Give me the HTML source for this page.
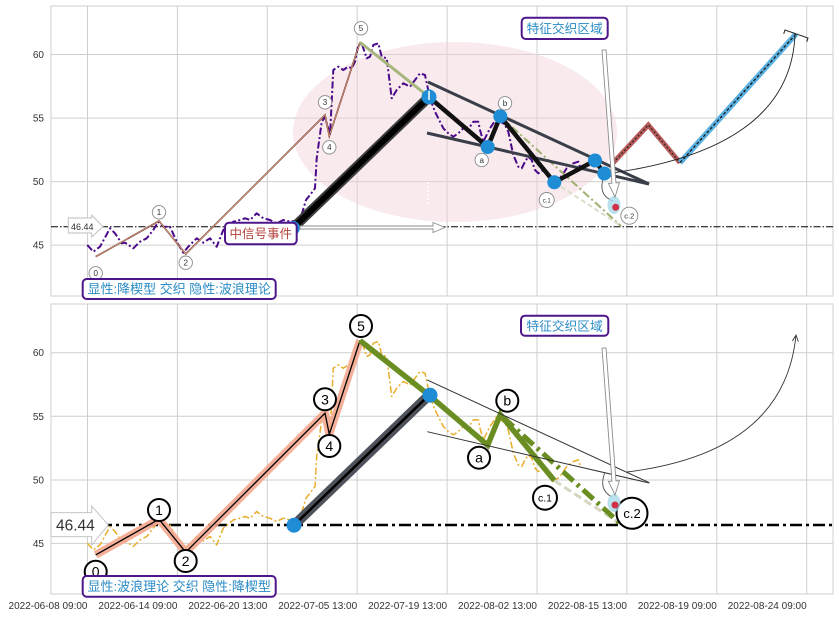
<!DOCTYPE html>
<html><head><meta charset="utf-8"><style>
html,body{margin:0;padding:0;background:#fff;}
svg{display:block;}
text{font-family:"Liberation Sans","Noto Sans CJK SC",sans-serif;}
</style></head><body>
<svg width="839" height="617" viewBox="0 0 839 617" xmlns="http://www.w3.org/2000/svg">
<rect width="839" height="617" fill="#fff"/>

<!-- ===== TOP PANEL ===== -->
<g stroke="#cfcfcf" stroke-width="1" fill="none">
<line x1="87.5" y1="6" x2="87.5" y2="296"/><line x1="177.4" y1="6" x2="177.4" y2="296"/><line x1="267.3" y1="6" x2="267.3" y2="296"/><line x1="357.2" y1="6" x2="357.2" y2="296"/><line x1="447.1" y1="6" x2="447.1" y2="296"/><line x1="537" y1="6" x2="537" y2="296"/><line x1="626.9" y1="6" x2="626.9" y2="296"/><line x1="716.8" y1="6" x2="716.8" y2="296"/><line x1="806.7" y1="6" x2="806.7" y2="296"/>
<line x1="51" y1="54.5" x2="833" y2="54.5"/><line x1="51" y1="118.1" x2="833" y2="118.1"/><line x1="51" y1="181.6" x2="833" y2="181.6"/><line x1="51" y1="245.1" x2="833" y2="245.1"/>
<rect x="51" y="6" width="782" height="290"/>
</g>
<g font-size="10" fill="#333" text-anchor="end">
<text x="44" y="58">60</text><text x="44" y="121.6">55</text><text x="44" y="185.1">50</text><text x="44" y="248.6">45</text>
</g>

<ellipse cx="455" cy="132" rx="162" ry="90" fill="#f2d0da" fill-opacity="0.45"/>
<line x1="428" y1="182" x2="428" y2="206" stroke="#fff" stroke-width="1.5" stroke-dasharray="2 2"/>

<line x1="51" y1="226.7" x2="833" y2="226.7" stroke="#000" stroke-width="1" stroke-dasharray="7 2 1.5 2"/>

<!-- price (purple) -->
<path d="M87.3,245 L93.3,251.7 L100,246.7 L110,228.3 L115,233.3 L121.7,243.3 L125,242.7 L133.3,248.3 L140,241.7 L146.7,238.3 L153.3,230 L158.3,221.7 L163.3,226.7 L170,226.7 L176.7,241.7 L183.3,252.7 L188.3,246.7 L196.7,238.3 L203.3,242.7 L210,238.3 L216.7,246.7 L223.3,230 L233.3,221.7 L240,220 L245,218.3 L250,220 L256.7,213.3 L263.3,218.3 L270,220 L276.7,223.3 L283.3,220 L290,221.7 L300,220 L306,200 L310,195 L315,188.3 L316.7,158.3 L321.7,122 L325,117 L330,135 L333.3,70 L338.3,66.7 L343.3,70 L348.3,66.7 L351.7,68.3 L355,61.7 L358.3,45 L361.7,43.3 L366.7,58.3 L370,56.7 L373.3,45 L378.3,43.3 L381.7,56.7 L386.7,58.3 L391.7,98.3 L396.7,90 L403.3,83.3 L410,86.7 L415,80 L420,73.3 L425,75 L430,98.3 L435,111.7 L440,121.7 L443.3,128.3 L448.3,133.3 L453.3,136.7 L458.3,133.3 L463.3,128.3 L470,126.7 L473.3,121.7 L478.3,121.7 L480,130 L483.3,141.7 L490,128.3 L496.7,118.3 L505,125 L508.3,131.7 L513.3,155 L518.3,166.7 L521.7,168.3 L525,161.7 L528.3,156.7 L531.7,160 L535,170 L538.3,173.3 L543.3,170 L550,178.3 L553.3,183.3 L560,178.3 L566.7,168.3 L573.3,163.3 L578.3,161.7 L580,166.7" fill="none" stroke="#4b0a8a" stroke-width="2" stroke-dasharray="7 2.5 2 2.5" stroke-linejoin="round"/>

<!-- wave 0-5 thin -->
<polyline points="95.7,256.7 159,221 185.7,254 325,115 329.3,136 360,42.3" fill="none" stroke="#6b3020" stroke-width="1.6"/>
<polyline points="95.7,256.7 159,221 185.7,254 325,115 329.3,136 360,42.3" fill="none" stroke="#f2b7a0" stroke-width="0.6"/>

<!-- olive -->
<polyline points="360,42.3 429,97 487.7,147 500.3,116.3 554.3,182.3" fill="none" stroke="#a7b67c" stroke-width="3"/>
<line x1="500.3" y1="116.3" x2="621" y2="226" stroke="#9fb070" stroke-width="2" stroke-dasharray="8 3 2 3"/>
<line x1="554.3" y1="182.3" x2="621" y2="226" stroke="#dcdccc" stroke-width="2" stroke-dasharray="5 3"/>

<!-- thick black -->
<line x1="293" y1="228" x2="429" y2="97" stroke="#3c3c3c" stroke-width="10"/>
<line x1="293" y1="228" x2="429" y2="97" stroke="#000" stroke-width="6"/>

<!-- trend lines -->
<line x1="428" y1="82" x2="649" y2="184" stroke="#393e48" stroke-width="3"/>
<line x1="427" y1="133" x2="649" y2="184" stroke="#393e48" stroke-width="3"/>

<!-- ABC -->
<polyline points="429,97 487.7,147 500.3,116.3 554.3,182.3 595,160.5 604.3,173.5" fill="none" stroke="#111" stroke-width="4.5" stroke-linejoin="round"/>

<!-- red & blue -->
<polyline points="613.3,162.7 648.3,125 680,162.7" fill="none" stroke="#b85a5a" stroke-width="5"/>
<polyline points="613.3,162.7 648.3,125 680,162.7" fill="none" stroke="#222" stroke-width="1.2" stroke-dasharray="2 2"/>
<line x1="680" y1="162.7" x2="796" y2="34" stroke="#5ab0e0" stroke-width="5.5"/>
<line x1="680" y1="162.7" x2="796" y2="34" stroke="#1a1a1a" stroke-width="1.3" stroke-dasharray="3 2"/>
<polyline points="783.7,33.8 785,30 808,38 806.7,41.8" fill="none" stroke="#222" stroke-width="1"/>
<path d="M612,173 Q790,148 795,35" fill="none" stroke="#222" stroke-width="0.9"/>
<path d="M604,176 Q597,195 613,201" fill="none" stroke="#555" stroke-width="0.9"/>

<!-- blue dots -->
<g fill="#1f8dd6">
<circle cx="293" cy="228" r="7"/><circle cx="429" cy="97" r="7.5"/><circle cx="487.7" cy="147" r="7"/><circle cx="500.3" cy="116.3" r="7"/><circle cx="554.3" cy="182.3" r="7"/><circle cx="595" cy="160.5" r="7"/><circle cx="604.3" cy="173.5" r="7"/>
</g>
<line x1="429" y1="91" x2="429" y2="100" stroke="#fff" stroke-width="1.5"/>

<!-- small circle labels -->
<g fill="#fff" stroke="#8a8a8a" stroke-width="0.9">
<circle cx="95.7" cy="273.3" r="6.7"/><circle cx="159" cy="212.3" r="6.7"/><circle cx="185.7" cy="262.7" r="6.7"/><circle cx="325" cy="102.3" r="6.7"/><circle cx="329.3" cy="147.3" r="6.7"/><circle cx="361" cy="28.3" r="6.7"/><circle cx="481.7" cy="160" r="6.7"/><circle cx="505" cy="103.3" r="6.7"/><circle cx="546.7" cy="200" r="7.5"/><circle cx="629.3" cy="215.7" r="8.5"/>
</g>
<g font-size="8" fill="#333" text-anchor="middle">
<text x="95.7" y="276.2">0</text><text x="159" y="215.2">1</text><text x="185.7" y="265.6">2</text><text x="325" y="105.2">3</text><text x="329.3" y="150.2">4</text><text x="361" y="31.2">5</text><text x="481.7" y="162.9">a</text><text x="505" y="106.2">b</text><text x="546.7" y="202.3" font-size="6">c.1</text><text x="629.3" y="218.4" font-size="7.5">c.2</text>
</g>

<!-- red dot -->
<ellipse cx="614" cy="205" rx="6.5" ry="9" fill="#a9d9ea" fill-opacity="0.8"/>
<circle cx="615.7" cy="207.3" r="3.5" fill="#d03048"/>

<!-- hollow arrow top -->
<polygon points="605.99,49.85 615.95,182.89 619.44,182.63 615,197 608.48,183.45 611.97,183.19 602.01,50.15" fill="#fff" stroke="#8c8c8c" stroke-width="0.9"/>

<!-- event arrow -->
<polygon points="300,226 433,226 433,222.5 445,227.5 433,232.5 433,229 300,229" fill="#fff" stroke="#8c8c8c" stroke-width="0.9"/>

<!-- 46.44 small arrow box -->
<polygon points="68.3,218 91.7,218 91.7,215 103,226.7 91.7,237 91.7,233 68.3,233" fill="#fff" stroke="#bdbdbd" stroke-width="0.9"/>
<text x="71" y="229.8" font-size="9" fill="#333">46.44</text>

<!-- boxes top -->
<rect x="225" y="222.7" width="71.7" height="21.6" rx="4" fill="#fff" stroke="#4d168a" stroke-width="2"/>
<text x="260.8" y="238" font-size="12.5" fill="#b3403a" text-anchor="middle">中信号事件</text>
<rect x="82.7" y="279" width="193" height="20" rx="4" fill="#fff" stroke="#4d168a" stroke-width="2"/>
<text x="179.2" y="293.6" font-size="13" fill="#2a8bc6" text-anchor="middle">显性:降楔型 交织 隐性:波浪理论</text>
<rect x="521.7" y="17.7" width="86" height="21.3" rx="4" fill="#fff" stroke="#4d168a" stroke-width="2"/>
<text x="564.7" y="33" font-size="12.7" fill="#2a8bc6" text-anchor="middle">特征交织区域</text>

<!-- ===== BOTTOM PANEL ===== -->
<g stroke="#cfcfcf" stroke-width="1" fill="none">
<line x1="87.5" y1="304" x2="87.5" y2="594"/><line x1="177.4" y1="304" x2="177.4" y2="594"/><line x1="267.3" y1="304" x2="267.3" y2="594"/><line x1="357.2" y1="304" x2="357.2" y2="594"/><line x1="447.1" y1="304" x2="447.1" y2="594"/><line x1="537" y1="304" x2="537" y2="594"/><line x1="626.9" y1="304" x2="626.9" y2="594"/><line x1="716.8" y1="304" x2="716.8" y2="594"/><line x1="806.7" y1="304" x2="806.7" y2="594"/>
<line x1="51" y1="352.7" x2="833" y2="352.7"/><line x1="51" y1="416.3" x2="833" y2="416.3"/><line x1="51" y1="480" x2="833" y2="480"/><line x1="51" y1="543.4" x2="833" y2="543.4"/>
<rect x="51" y="304" width="782" height="290"/>
</g>
<g font-size="10" fill="#333" text-anchor="end">
<text x="44" y="356.2">60</text><text x="44" y="419.8">55</text><text x="44" y="483.5">50</text><text x="44" y="546.9">45</text>
</g>
<g font-size="10" fill="#333" text-anchor="end">
<text x="87.5" y="609">2022-06-08 09:00</text><text x="177.4" y="609">2022-06-14 09:00</text><text x="267.3" y="609">2022-06-20 13:00</text><text x="357.2" y="609">2022-07-05 13:00</text><text x="447.1" y="609">2022-07-19 13:00</text><text x="537" y="609">2022-08-02 13:00</text><text x="626.9" y="609">2022-08-15 13:00</text><text x="716.8" y="609">2022-08-19 09:00</text><text x="806.7" y="609">2022-08-24 09:00</text>
</g>

<line x1="100" y1="525" x2="833" y2="525" stroke="#000" stroke-width="2.5" stroke-dasharray="12 4 3 4"/>

<g transform="translate(0,298.2)">
<path d="M87.3,245 L93.3,251.7 L100,246.7 L110,228.3 L115,233.3 L121.7,243.3 L125,242.7 L133.3,248.3 L140,241.7 L146.7,238.3 L153.3,230 L158.3,221.7 L163.3,226.7 L170,226.7 L176.7,241.7 L183.3,252.7 L188.3,246.7 L196.7,238.3 L203.3,242.7 L210,238.3 L216.7,246.7 L223.3,230 L233.3,221.7 L240,220 L245,218.3 L250,220 L256.7,213.3 L263.3,218.3 L270,220 L276.7,223.3 L283.3,220 L290,221.7 L300,220 L306,200 L310,195 L315,188.3 L316.7,158.3 L321.7,122 L325,117 L330,135 L333.3,70 L338.3,66.7 L343.3,70 L348.3,66.7 L351.7,68.3 L355,61.7 L358.3,45 L361.7,43.3 L366.7,58.3 L370,56.7 L373.3,45 L378.3,43.3 L381.7,56.7 L386.7,58.3 L391.7,98.3 L396.7,90 L403.3,83.3 L410,86.7 L415,80 L420,73.3 L425,75 L430,98.3 L435,111.7 L440,121.7 L443.3,128.3 L448.3,133.3 L453.3,136.7 L458.3,133.3 L463.3,128.3 L470,126.7 L473.3,121.7 L478.3,121.7 L480,130 L483.3,141.7 L490,128.3 L496.7,118.3 L505,125 L508.3,131.7 L513.3,155 L518.3,166.7 L521.7,168.3 L525,161.7 L528.3,156.7 L531.7,160 L535,170 L538.3,173.3 L543.3,170 L550,178.3 L553.3,183.3 L560,178.3 L566.7,168.3 L573.3,163.3 L578.3,161.7 L580,166.7" fill="none" stroke="#e8ad2a" stroke-width="1.5" stroke-dasharray="7 2.5 2 2.5" stroke-linejoin="round"/>

<polyline points="95.7,256.7 159,221 185.7,254 325,115 329.3,136 360,42.3" fill="none" stroke="#f4a78e" stroke-width="8" stroke-linejoin="round" stroke-opacity="0.9"/>
<polyline points="95.7,256.7 159,221 185.7,254 325,115 329.3,136 360,42.3" fill="none" stroke="#000" stroke-width="1.3"/>

<line x1="554.3" y1="182.3" x2="621" y2="226" stroke="#d6d6c2" stroke-width="3" stroke-dasharray="8 4"/>
<polyline points="360,42.3 429,97 487.7,147 500.3,116.3 554.3,182.3" fill="none" stroke="#6b8e23" stroke-width="5.5" stroke-linejoin="miter"/>
<line x1="503" y1="119" x2="621" y2="226" stroke="#6b8e23" stroke-width="5" stroke-dasharray="14 5 3 5"/>

<line x1="294" y1="227" x2="429" y2="97" stroke="#4e525b" stroke-width="10"/>
<line x1="294" y1="227" x2="429" y2="97" stroke="#000" stroke-width="2.5"/>

<line x1="427.3" y1="81.8" x2="649.3" y2="184.5" stroke="#333" stroke-width="1"/>
<line x1="427.3" y1="133.5" x2="649.3" y2="184.8" stroke="#333" stroke-width="1"/>

<circle cx="294" cy="227" r="7.5" fill="#1f8dd6"/>
<circle cx="430" cy="97" r="7.5" fill="#1f8dd6"/>
</g>

<!-- arc arrow bottom -->
<path d="M627,472 Q784.5,452.5 796,335" fill="none" stroke="#333" stroke-width="0.9"/>
<polyline points="792.4,341 796,335 798.3,341.6" fill="none" stroke="#333" stroke-width="0.9"/>
<path d="M605,472 Q598,490 612,497" fill="none" stroke="#555" stroke-width="0.9"/>

<!-- big circle labels -->
<g fill="#fff" stroke="#000" stroke-width="2">
<circle cx="95.7" cy="571.7" r="11"/><circle cx="159" cy="510" r="11"/><circle cx="185.7" cy="561" r="11"/><circle cx="325" cy="399.3" r="11"/><circle cx="329.3" cy="446" r="11"/><circle cx="361" cy="326" r="11"/><circle cx="479" cy="457.7" r="11"/><circle cx="507.3" cy="400.7" r="11"/><circle cx="545" cy="497.7" r="12"/><circle cx="632" cy="513.3" r="15.5"/>
</g>
<g font-size="14" fill="#000" text-anchor="middle">
<text x="95.7" y="576.7">0</text><text x="159" y="515">1</text><text x="185.7" y="566">2</text><text x="325" y="404.3">3</text><text x="329.3" y="451">4</text><text x="361" y="331">5</text><text x="479" y="462.7">a</text><text x="507.3" y="405.7">b</text><text x="545" y="501.5" font-size="10.5">c.1</text><text x="632" y="518" font-size="13">c.2</text>
</g>

<!-- box covering 0 bottom -->
<rect x="82.7" y="576" width="193" height="20.7" rx="4" fill="#fff" stroke="#4d168a" stroke-width="2"/>
<text x="179.2" y="590.8" font-size="13" fill="#2a8bc6" text-anchor="middle">显性:波浪理论 交织 隐性:降楔型</text>

<!-- red dot bottom -->
<ellipse cx="614" cy="503" rx="6.5" ry="9" fill="#a9d9ea" fill-opacity="0.8"/>
<circle cx="615" cy="505" r="3.5" fill="#d03048"/>

<!-- hollow arrow bottom -->
<g transform="translate(0,298)">
<polygon points="605.99,49.85 615.95,182.89 619.44,182.63 615,197 608.48,183.45 611.97,183.19 602.01,50.15" fill="#fff" stroke="#8c8c8c" stroke-width="0.9"/>
</g>

<!-- 46.44 big arrow box -->
<polygon points="51,512.7 91.7,512.7 91.7,506 108.3,525 91.7,545 91.7,536.7 51,536.7" fill="#fff" stroke="#bdbdbd" stroke-width="0.9"/>
<text x="56" y="530.5" font-size="15.5" fill="#333">46.44</text>

<rect x="521" y="315.7" width="87.3" height="20" rx="4" fill="#fff" stroke="#4d168a" stroke-width="2"/>
<text x="564.6" y="330.4" font-size="12.7" fill="#2a8bc6" text-anchor="middle">特征交织区域</text>
</svg>
</body></html>
